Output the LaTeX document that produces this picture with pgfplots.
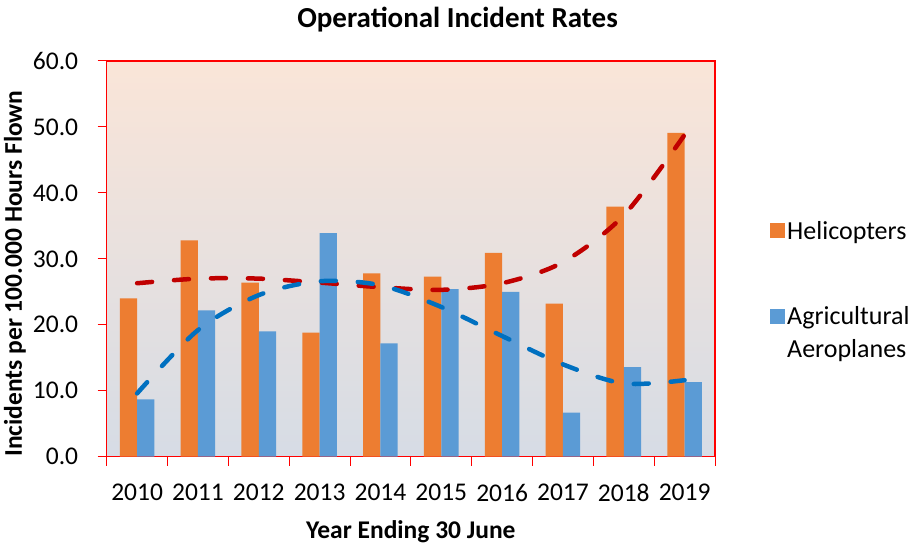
\documentclass[border=0pt]{standalone}
\usepackage{fontspec}
\setmainfont{Carlito}
\usepackage{pgfplots}
\usepackage{pgfplotstable}
\pgfplotsset{compat=1.18}

\definecolor{heli}{HTML}{ED7D31}
\definecolor{agri}{HTML}{5B9BD5}
\definecolor{helitr}{HTML}{C00000}
\definecolor{agritr}{HTML}{0070C0}
\definecolor{bgtop}{HTML}{FAE5D8}
\definecolor{bgbot}{HTML}{D6DCE5}

% x = category index, then rates per 100,000 hours flown and the two trend lines
\pgfplotstableread{
x  heli  agri  helitr agritr
0  24.0  8.7   26.3   9.6
1  32.8  22.2  27.0   19.2
2  26.4  19.0  27.0   24.5
3  18.8  33.9  26.4   26.6
4  27.8  17.2  25.7   26.0
5  27.3  25.4  25.3   22.7
6  30.9  25.0  26.3   18.3
7  23.2  6.7   29.5   14.0
8  37.9  13.6  36.6   11.1
9  49.1  11.3  48.8   11.6
}\rates

\begin{document}
\begin{tikzpicture}[font=\fontsize{25.5}{30}\selectfont]
\useasboundingbox (0,0) rectangle (915pt,545pt);
\node[font=\fontsize{29}{34}\selectfont\bfseries] at (457.5pt,525.5pt) {Operational Incident Rates};
\begin{axis}[
  at={(106.7pt,88.3pt)}, anchor=south west,
  width=608.3pt, height=395.7pt, scale only axis,
  xmin=-0.5, xmax=9.5, ymin=0, ymax=60,
  axis line style={red, line width=1.2pt},
  axis background/.style={top color=bgtop, bottom color=bgbot},
  xtick={0,...,9},
  xticklabels={2010,2011,2012,2013,2014,2015,2016,2017,2018,2019},
  major x tick style={draw=none},
  minor xtick={-0.5,0.5,...,9.5},
  ytick={0,10,...,60},
  xtick pos=bottom, ytick pos=left,
  tick align=outside,
  major tick length=9pt, minor tick length=9pt,
  tick style={red, line width=1pt},
  /pgf/number format/assume math mode=true,
  yticklabel style={/pgf/number format/fixed, /pgf/number format/fixed zerofill,
    /pgf/number format/precision=1, anchor=east, xshift=-16pt},
  xticklabel style={anchor=north, yshift=-15pt},
  xlabel={\bfseries Year Ending 30 June},
  ylabel={\bfseries Incidents per 100.000 Hours Flown},
  label style={font=\fontsize{26.5}{31}\selectfont},
  every axis x label/.style={at={(axis description cs:0.5,0)}, yshift=-75.5pt, anchor=center},
  every axis y label/.style={at={(axis description cs:0,0.463)}, xshift=-91.7pt, rotate=90, anchor=center},
  legend style={draw=none, fill=none, at={(axis description cs:1.0855,0.606)}, anchor=north west,
    cells={anchor=west, align=left}, row sep=62pt,
    font=\fontsize{26}{33}\selectfont},
]
\addplot[ybar, bar width=17.3pt, bar shift=-8.65pt, fill=heli, draw=none,
  legend image code/.code={\fill[heli] (0pt,-7.5pt) rectangle (15pt,7.5pt);}]
  table[x=x, y=heli] {\rates};
\addlegendentry{Helicopters}
\addplot[ybar, bar width=17.3pt, bar shift=8.65pt, fill=agri, draw=none,
  legend image code/.code={\path[fill=none, draw=none] (0pt,-24pt) rectangle (15pt,24pt); \fill[agri] (0pt,9pt) rectangle (15pt,24pt);}]
  table[x=x, y=agri] {\rates};
\addlegendentry{Agricultural\\Aeroplanes}
\addplot[smooth, forget plot, helitr, line width=4.5pt, line cap=round, dash pattern=on 15pt off 22pt] table[x=x, y=helitr] {\rates};
\addplot[smooth, forget plot, agritr, line width=4.5pt, line cap=round, dash pattern=on 15pt off 22pt] table[x=x, y=agritr] {\rates};
\end{axis}
\end{tikzpicture}
\end{document}
